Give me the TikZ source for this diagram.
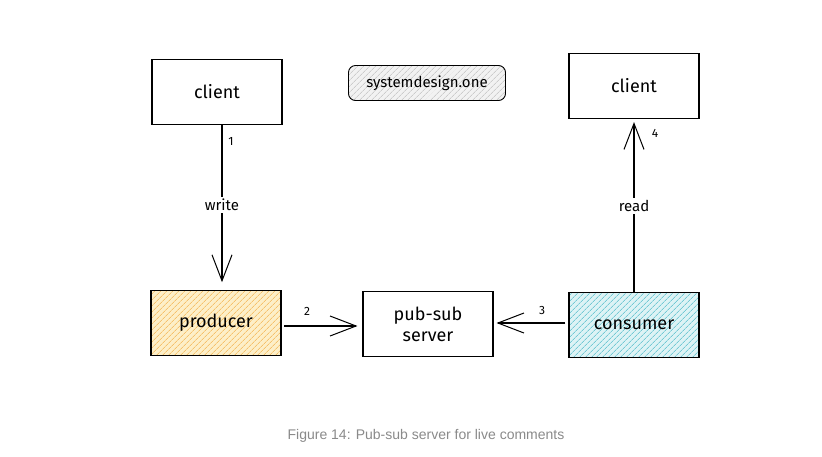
\documentclass[tikz,border=0pt]{standalone}
\usepackage{fontspec}
\setmainfont{Fira Sans}
\newfontfamily\capfont{Liberation Sans}
\usetikzlibrary{arrows.meta,patterns.meta}
\definecolor{prodfill}{HTML}{FDEFC8}
\definecolor{prodline}{HTML}{F2A93B}
\definecolor{consfill}{HTML}{DDF3F5}
\definecolor{consline}{HTML}{3BB3C3}
\definecolor{tagfill}{HTML}{F2F2F2}
\definecolor{tagline}{HTML}{B8B8B8}
\definecolor{capgray}{HTML}{8A8A8A}
\begin{document}
\begin{tikzpicture}[x=1pt,y=-1pt,
  box/.style={draw=black,line width=1.1pt,minimum width=130pt,minimum height=65pt,font=\fontsize{18}{21}\selectfont,align=center},
  prodbox/.style={box,preaction={fill=prodfill},pattern={Lines[angle=45,distance=4pt,line width=0.6pt]},pattern color=prodline},
  consbox/.style={box,preaction={fill=consfill},pattern={Lines[angle=45,distance=4pt,line width=0.6pt]},pattern color=consline},
  tagbox/.style={draw=black,line width=0.9pt,rounded corners=7pt,minimum width=157pt,minimum height=35pt,preaction={fill=tagfill},pattern={Lines[angle=45,distance=4pt,line width=0.5pt]},pattern color=tagline,font=\fontsize{15}{18}\selectfont},
  conn/.style={draw=black,line width=1.1pt,-{Straight Barb[length=26pt,width=20pt,line width=1pt]}},
  lbl/.style={fill=white,inner sep=2pt,font=\fontsize{15}{17}\selectfont},
  num/.style={font=\fontsize{12}{14}\selectfont,inner sep=1pt}]
\useasboundingbox[fill=white] (0,0) rectangle (822,456);
\node[box] (c1) at (217,92) {client};
\node[tagbox] (tag) at (427,83) {systemdesign.one};
\node[box] (c2) at (634,86) {client};
\node[prodbox] (prod) at (216,323) {producer};
\node[box] (ps) at (428,324) {pub-sub\\server};
\node[consbox] (cons) at (634,325) {consumer};
\coordinate (a1s) at ([xshift=5pt]c1.south);
\draw[conn] (a1s) -- ([yshift=8pt]a1s |- prod.north);
\node[lbl] (w) at (222,205) {write};
\node[num] (n1) at (231,141) {1};
\coordinate (a2s) at ([xshift=3pt,yshift=-3pt]prod.east);
\draw[conn] (a2s) -- ([xshift=-5pt]a2s -| ps.west);
\node[num] (n2) at (307,311) {2};
\coordinate (a3s) at ([xshift=-3pt,yshift=2pt]cons.west);
\draw[conn] (a3s) -- ([xshift=3pt]a3s -| ps.east);
\node[num] (n3) at (542,310) {3};
\draw[conn] (cons.north) -- ([yshift=-3pt]c2.south);
\node[lbl] (r) at (634,206) {read};
\node[num] (n4) at (655,133) {4};
\node[font=\capfont\fontsize{14}{16}\selectfont,text=capgray] (cap) at (426,436) {Figure 14: Pub-sub server for live comments};
\end{tikzpicture}
\end{document}
